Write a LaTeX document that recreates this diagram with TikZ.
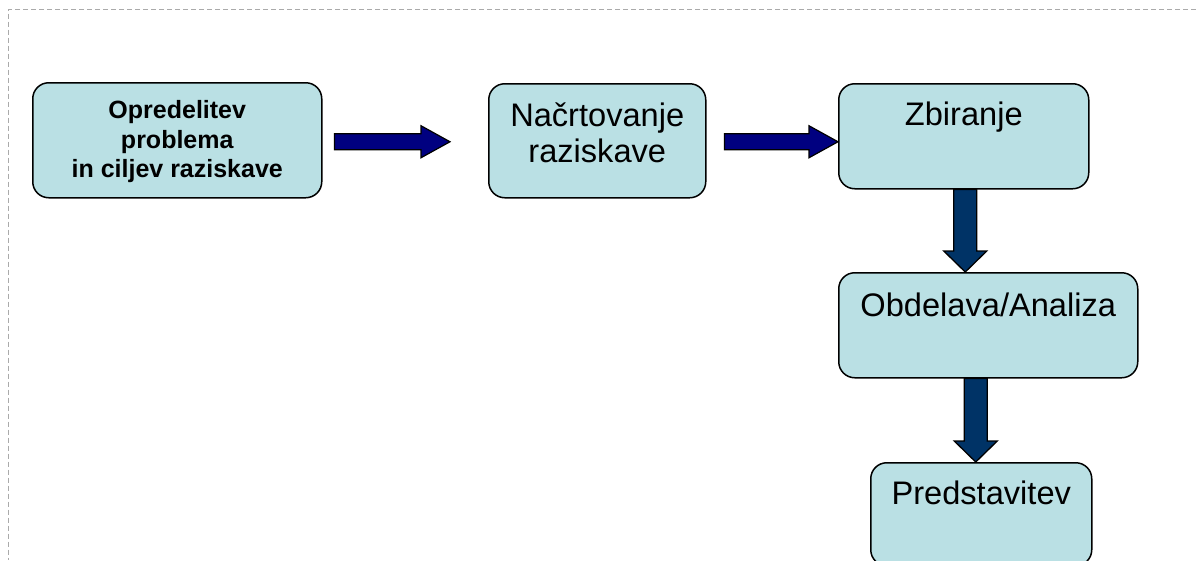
\documentclass[tikz,border=0pt]{standalone}
\usepackage{fontspec}
\setmainfont{Liberation Sans}
\usetikzlibrary{calc}

\definecolor{boxfill}{RGB}{186,224,228}
\definecolor{navyarrow}{RGB}{0,0,128}
\definecolor{steelarrow}{RGB}{0,51,102}
\definecolor{framegray}{RGB}{170,170,170}

\tikzset{
  stage/.style={draw=black, line width=1.5pt, fill=boxfill, rounded corners=16pt,
    inner sep=0pt, anchor=north west, align=center,
    font=\fontsize{32.6}{36.5}\selectfont},
  % block arrow pointing right: shaft half-width 8, head half-width 16, head length 29
  rightblock/.style={draw=black, line width=1.2pt, fill=navyarrow, line join=miter,
    to path={($(\tikztostart)+(0,-8)$) -- ($(\tikztotarget)+(-29,-8)$)
      -- ($(\tikztotarget)+(-29,-16)$) -- (\tikztotarget)
      -- ($(\tikztotarget)+(-29,16)$) -- ($(\tikztotarget)+(-29,8)$)
      -- ($(\tikztostart)+(0,8)$) -- cycle}},
  % block arrow pointing down: shaft half-width 11.5, head half-width 21.5, head length 21
  downblock/.style={draw=black, line width=1.3pt, fill=steelarrow, line join=miter,
    to path={($(\tikztostart)+(-11.5,0)$) -- ($(\tikztotarget)+(-11.5,-21)$)
      -- ($(\tikztotarget)+(-21.5,-21)$) -- (\tikztotarget)
      -- ($(\tikztotarget)+(21.5,-21)$) -- ($(\tikztotarget)+(11.5,-21)$)
      -- ($(\tikztostart)+(11.5,0)$) -- cycle}}
}

\begin{document}
\begin{tikzpicture}[x=1pt, y=-1pt]
\useasboundingbox (0,0) rectangle (1196,560);
\clip (0,0) rectangle (1196,560);

% dashed frame (top and left edges)
\draw[framegray, line width=0.9pt, dash pattern=on 5.5pt off 2.5pt]
  (1196,9.5) -- (8,9.5) -- (8,560);

% stages (text height is measured to the baseline of the last line)
\node[stage, minimum width=289pt, text height=95pt, text depth=20pt,
      font=\fontsize{25}{29.5}\selectfont\bfseries] (b1) at (32,82)
  {Opredelitev\\problema\\in ciljev raziskave};
\node[stage, minimum width=217pt, text height=79pt, text depth=35pt] (b2) at (488,83)
  {Načrtovanje\\raziskave};
\node[stage, minimum width=250pt, text height=42pt, text depth=63pt] (b3) at (838,83)
  {Zbiranje};
\node[stage, minimum width=299pt, text height=44pt, text depth=61pt] (b4) at (838,272)
  {Obdelava/Analiza};
\node[stage, minimum width=221pt, text height=42pt, text depth=61pt] (b5) at (870,462)
  {Predstavitev};

% block arrows between stages
\coordinate (a1s) at ($(b1.east)+(12,1.5)$);
\coordinate (a1e) at ($(b2.west)+(-38,1)$);
\draw[rightblock] (a1s) to (a1e);

\coordinate (a2s) at ($(b2.east)+(18,1)$);
\coordinate (a2e) at (b3.west |- a2s);
\draw[rightblock] (a2s) to (a2e);

\coordinate (a3s) at ($(b3.south)+(1.5,0)$);
\coordinate (a3e) at (a3s |- b4.north);
\draw[downblock] (a3s) to (a3e);

\coordinate (a4s) at ($(b4.south)+(-12.5,0)$);
\coordinate (a4e) at (a4s |- b5.north);
\draw[downblock] (a4s) to (a4e);
\end{tikzpicture}
\end{document}
